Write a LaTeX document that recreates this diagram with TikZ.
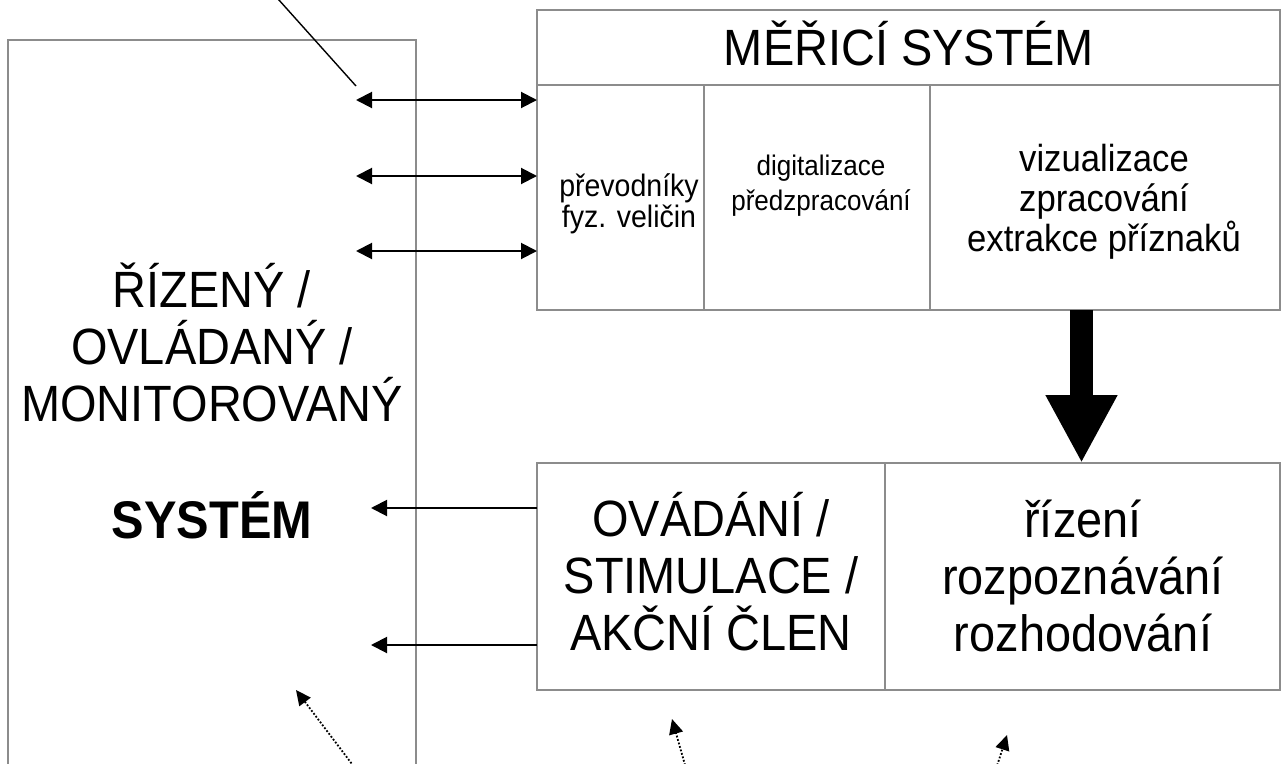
\documentclass[tikz,border=0pt]{standalone}
\usepackage{fontspec}
\setmainfont{Liberation Sans}[FakeStretch=0.92]
\usetikzlibrary{arrows.meta}
\definecolor{boxgray}{RGB}{140,140,140}
\newcommand\myBig{\fontsize{51}{57}\selectfont}
\newcommand\myBold{\fontsize{53}{57}\selectfont\bfseries}
\newcommand\myConv{\fontsize{31}{31}\selectfont}
\newcommand\myDigi{\fontsize{28.3}{35}\selectfont}
\newcommand\myViz{\fontsize{37.7}{40}\selectfont}
\begin{document}
\begin{tikzpicture}[x=1pt,y=-1pt,
  box/.style={draw=boxgray, line width=1.8pt, inner sep=0pt, outer sep=0pt, anchor=north west},
  txt/.style={inner sep=0pt, outer sep=0pt, align=center, text=black},
  dblarrow/.style={black, line width=2pt, {Triangle[length=16pt,width=16pt]}-{Triangle[length=16pt,width=16pt]}},
  sarrow/.style={black, line width=2pt, -{Triangle[length=16pt,width=16pt]}},
  bigarrow/.style={black, line width=23pt, -{Triangle[length=68pt,width=67pt]}},
  dotarrow/.style={black, line width=1.8pt, dash pattern=on 1.8pt off 1.8pt, -{Triangle[length=15pt,width=14pt]}},
  pointer/.style={black, line width=1.4pt}]
\useasboundingbox (0,0) rectangle (1282,763);
\clip (0,0) rectangle (1282,763);
\fill[white] (0,0) rectangle (1282,763);

% left system box (open at bottom)
\node[box, minimum width=408pt, minimum height=780pt] (sys) at (8,40) {};
\node[txt, font=\myBig] (systxt) at (212,342) {ŘÍZENÝ /\\OVLÁDANÝ /\\MONITOROVANÝ};
\node[txt, font=\myBold, anchor=base] (sysbold) at (212,538) {SYSTÉM};

% measuring system
\node[box, minimum width=743pt, minimum height=75pt] (head) at (537,10) {};
\node[txt, font=\myBig, anchor=base] (headtxt) at (909,65) {MĚŘICÍ SYSTÉM};
\node[box, minimum width=167pt, minimum height=225pt] (conv) at (537,85) {};
\node[box, minimum width=226pt, minimum height=225pt] (digi) at (704,85) {};
\node[box, minimum width=350pt, minimum height=225pt] (viz) at (930,85) {};
\node[txt, font=\myConv] (convtxt) at (629,204) {převodníky\\fyz. veličin};
\node[txt, font=\myDigi] (digitxt) at (821,186) {digitalizace\\předzpracování};
\node[txt, font=\myViz] (viztxt) at (1104,202) {vizualizace\\zpracování\\extrakce příznaků};

% actuation / decision
\node[box, minimum width=348pt, minimum height=227pt] (act) at (537,463) {};
\node[box, minimum width=395pt, minimum height=227pt] (dec) at (885,463) {};
\node[txt, font=\myBig] (acttxt) at (711,572) {OVÁDÁNÍ /\\STIMULACE /\\AKČNÍ ČLEN};
\node[txt, font=\myBig] (dectxt) at (1083,576) {řízení\\rozpoznávání\\rozhodování};

% double arrows
\coordinate (d1) at (356,100);
\coordinate (d2) at (356,176);
\coordinate (d3) at (356,251);
\draw[dblarrow] (d1) -- (d1 -| conv.west);
\draw[dblarrow] (d2) -- (d2 -| conv.west);
\draw[dblarrow] (d3) -- (d3 -| conv.west);

% pointer line
\coordinate (p0) at (270,-10);
\coordinate (p1) at (356,86);
\draw[pointer] (p0) -- (p1);

% outputs to system
\coordinate (o1) at (371,508);
\coordinate (o2) at (371,645);
\draw[sarrow] (o1 -| act.west) -- (o1);
\draw[sarrow] (o2 -| act.west) -- (o2);

% big arrow
\coordinate (bx) at (1081.5,400);
\draw[bigarrow] (bx |- viz.south) -- (bx |- dec.north);

% dotted arrows
\coordinate (t1) at (358,772);
\coordinate (h1) at (296,690);
\coordinate (t2) at (687,772);
\coordinate (h2) at (672,719);
\coordinate (t3) at (995,772);
\coordinate (h3) at (1007,735);
\draw[dotarrow] (t1) -- (h1);
\draw[dotarrow] (t2) -- (h2);
\draw[dotarrow] (t3) -- (h3);
\end{tikzpicture}
\end{document}
